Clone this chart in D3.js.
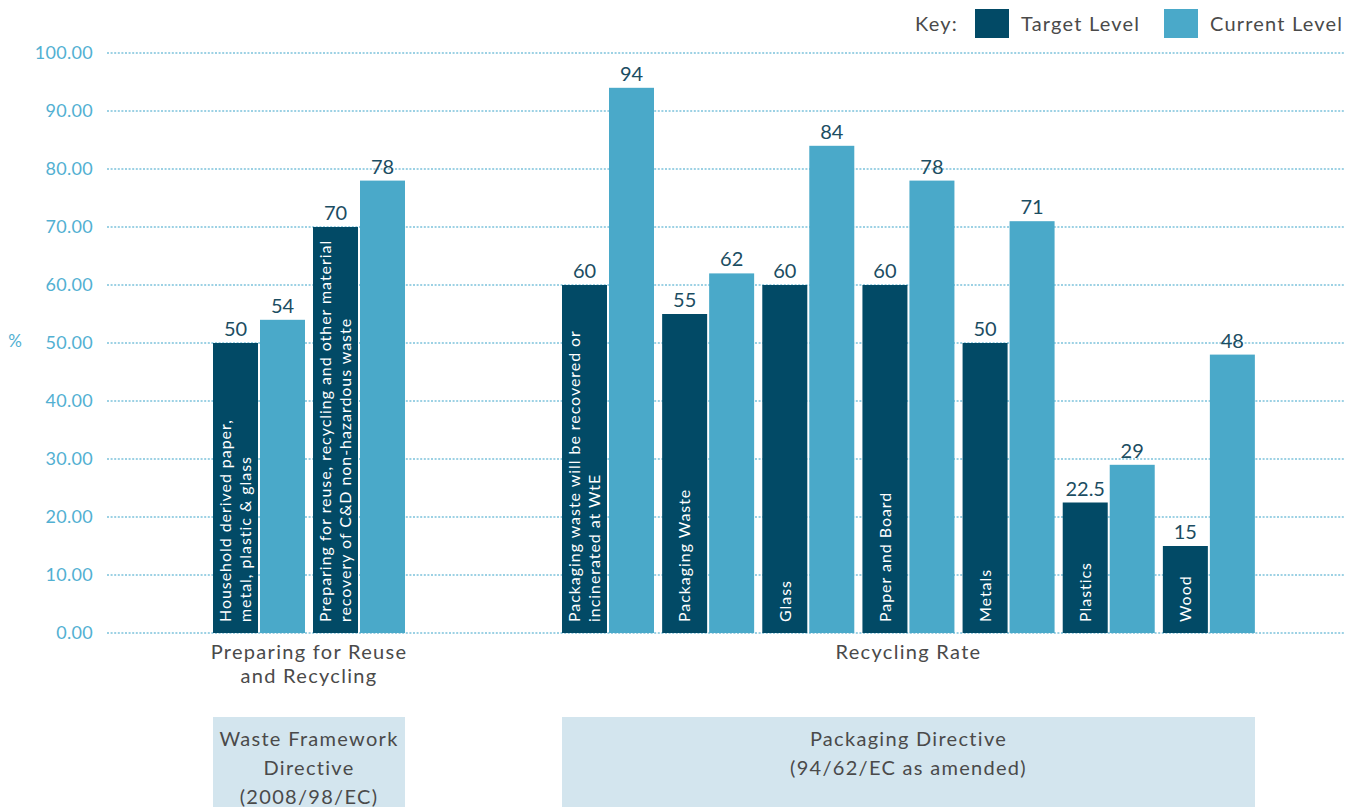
<!DOCTYPE html>
<html>
<head>
<meta charset="utf-8">
<script src="https://cdn.jsdelivr.net/npm/d3@7/dist/d3.min.js"></script>
<style>
  html, body { margin: 0; padding: 0; background: #ffffff; }
  svg { display: block; font-family: Lato, "Open Sans", sans-serif; }
</style>
</head>
<body>
<div id="chart"></div>
<script>
// Waste targets vs. current performance, grouped by directive

const categories = [
  ["Household derived paper,", "metal, plastic & glass"],
  ["Preparing for reuse, recycling and other material", "recovery of C&D non-hazardous waste"],
  ["Packaging waste will be recovered or", "incinerated at WtE"],
  ["Packaging Waste"],
  ["Glass"],
  ["Paper and Board"],
  ["Metals"],
  ["Plastics"],
  ["Wood"]
];
const categorySection = [0, 0, 1, 1, 1, 1, 1, 1, 1];
const targetLevel  = [50, 70, 60, 55, 60, 60, 50, 22.5, 15];
const currentLevel = [54, 78, 94, 62, 84, 78, 71, 29, 48];
const targetLabels  = ["50", "70", "60", "55", "60", "60", "50", "22.5", "15"];
const currentLabels = ["54", "78", "94", "62", "84", "78", "71", "29", "48"];

const sectionTitles = [
  ["Preparing for Reuse", "and Recycling"],
  ["Recycling Rate"]
];
const directiveTitles = [
  ["Waste Framework", "Directive", "(2008/98/EC)"],
  ["Packaging Directive", "(94/62/EC as amended)"]
];
const seriesNames = ["Target Level", "Current Level"];
const yTicks = [0, 10, 20, 30, 40, 50, 60, 70, 80, 90, 100];

const W = 1357, H = 807;
const colTarget = "#024a66";
const colCurrent = "#4aa9c9";
const colTick = "#52b0d2";
const colText = "#4a4a4a";
const colValue = "#1b4d62";

const svg = d3.select("#chart").append("svg").attr("width", W).attr("height", H);

const y = d3.scaleLinear().domain([0, 100]).range([633, 53]);

// horizontal extent of each section's bars
const sectionRanges = [[213, 405], [562, 1255]];
const sectionScales = sectionRanges.map((r, s) =>
  d3.scaleBand()
    .domain(categories.map((c, i) => i).filter(i => categorySection[i] === s))
    .range(r)
    .paddingInner(0.08)
    .paddingOuter(0));
const groupX = i => sectionScales[categorySection[i]](i);
const groupW = sectionScales[0].bandwidth();
const inner = d3.scaleBand().domain(["target", "current"]).range([0, groupW]).paddingInner(0.0426);

// gridlines
const gridG = svg.append("g");
gridG.selectAll("line").data(yTicks).join("line")
  .attr("x1", 107).attr("x2", 1345)
  .attr("y1", d => y(d)).attr("y2", d => y(d))
  .attr("stroke", "#7cc2db").attr("stroke-width", 1.5)
  .attr("stroke-dasharray", "2,1.6");

// y-axis tick labels
const yAxis = d3.axisLeft(y).tickValues(yTicks).tickFormat(d3.format(".2f")).tickSize(0).tickPadding(0);
const yg = svg.append("g").attr("transform", "translate(93,0)").call(yAxis);
yg.select(".domain").remove();
yg.selectAll("text").attr("fill", colTick)
  .style("font-size", "18px").style("font-family", "Lato, sans-serif").style("letter-spacing", "0.3px");

svg.append("text").attr("x", 15).attr("y", 347).attr("text-anchor", "middle")
  .attr("fill", colTick).style("font-size", "17px").text("%");

// bars
const rows = categories.map((c, i) => ({ i, lines: c, t: targetLevel[i], c: currentLevel[i], tl: targetLabels[i], cl: currentLabels[i] }));
const g = svg.append("g").selectAll("g").data(rows).join("g")
  .attr("transform", d => `translate(${groupX(d.i)},0)`);

g.append("rect")
  .attr("x", inner("target")).attr("width", inner.bandwidth())
  .attr("y", d => y(d.t)).attr("height", d => y(0) - y(d.t))
  .attr("fill", colTarget);
g.append("rect")
  .attr("x", inner("current")).attr("width", inner.bandwidth())
  .attr("y", d => y(d.c)).attr("height", d => y(0) - y(d.c))
  .attr("fill", colCurrent);

// value labels
g.append("text")
  .attr("x", inner("target") + inner.bandwidth() / 2).attr("y", d => y(d.t) - 7)
  .attr("text-anchor", "middle").attr("fill", colValue).style("font-size", "20px")
  .text(d => d.tl);
g.append("text")
  .attr("x", inner("current") + inner.bandwidth() / 2).attr("y", d => y(d.c) - 7)
  .attr("text-anchor", "middle").attr("fill", colValue).style("font-size", "20px")
  .text(d => d.cl);

// rotated category names inside the target bars
g.each(function (d) {
  const cx = inner("target") + inner.bandwidth() / 2;
  const n = d.lines.length;
  d.lines.forEach((line, k) => {
    const off = (k - (n - 1) / 2) * 20;
    d3.select(this).append("text")
      .attr("transform", `translate(${cx + off},${y(0) - 11}) rotate(-90)`)
      .attr("dy", "0.36em")
      .attr("fill", "#ffffff").style("font-size", "16px").style("letter-spacing", "0.95px")
      .text(line);
  });
});

// section titles under the axis
sectionTitles.forEach((lines, s) => {
  const cx = (sectionRanges[s][0] + sectionRanges[s][1]) / 2;
  lines.forEach((line, k) => {
    svg.append("text").attr("x", cx).attr("y", 659 + k * 24)
      .attr("text-anchor", "middle").attr("fill", colText)
      .style("font-size", "20px").style("letter-spacing", "1.3px")
      .text(line);
  });
});

// directive boxes
directiveTitles.forEach((lines, s) => {
  const [x0, x1] = sectionRanges[s];
  svg.append("rect").attr("x", x0).attr("y", 717).attr("width", x1 - x0).attr("height", H - 717)
    .attr("fill", "#d3e5ee");
  lines.forEach((line, k) => {
    svg.append("text").attr("x", (x0 + x1) / 2).attr("y", 746 + k * 29)
      .attr("text-anchor", "middle").attr("fill", colText)
      .style("font-size", "20px").style("letter-spacing", "1.3px")
      .text(line);
  });
});

// key
const key = svg.append("g").style("font-size", "20px").style("letter-spacing", "1.2px");
key.append("text").attr("x", 915).attr("y", 31).attr("fill", colText).text("Key:");
const keyItems = [
  { name: seriesNames[0], color: colTarget, x: 975 },
  { name: seriesNames[1], color: colCurrent, x: 1164 }
];
keyItems.forEach(k => {
  key.append("rect").attr("x", k.x).attr("y", 9).attr("width", 34).attr("height", 29).attr("fill", k.color);
  key.append("text").attr("x", k.x + 46).attr("y", 31).attr("fill", colText).text(k.name);
});
</script>
</body>
</html>
